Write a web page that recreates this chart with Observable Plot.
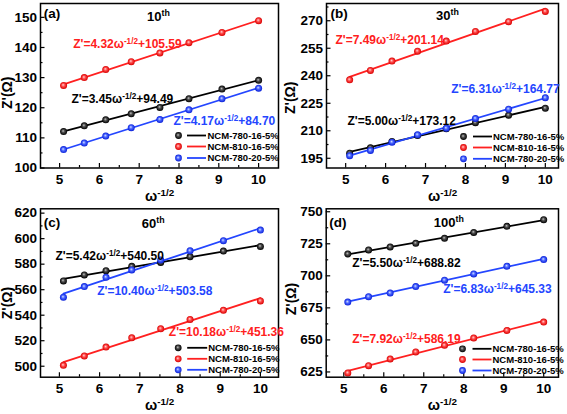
<!DOCTYPE html>
<html>
<head>
<meta charset="utf-8">
<script src="https://cdn.jsdelivr.net/npm/d3@7"></script>
<script src="https://cdn.jsdelivr.net/npm/@observablehq/plot@0.6"></script>
<style>
html, body { margin: 0; padding: 0; background: #fff; }
#fig { position: relative; width: 567px; height: 414px; overflow: hidden; font-family: "Liberation Sans", Arial, sans-serif; }
#fig > div { position: absolute; }
#fig svg { overflow: visible; }
</style>
</head>
<body>
<svg width="0" height="0" style="position:absolute">
  <defs>
    <radialGradient id="ball0" cx="0.5" cy="0.5" r="0.5" fx="0.42" fy="0.4">
      <stop offset="0" stop-color="#c8c8c8"/><stop offset="0.4" stop-color="#505050"/><stop offset="1" stop-color="#000"/>
    </radialGradient>
    <radialGradient id="ball1" cx="0.5" cy="0.5" r="0.5" fx="0.42" fy="0.4">
      <stop offset="0" stop-color="#ffd6d6"/><stop offset="0.45" stop-color="#ff4a4a"/><stop offset="1" stop-color="#d80000"/>
    </radialGradient>
    <radialGradient id="ball2" cx="0.5" cy="0.5" r="0.5" fx="0.42" fy="0.4">
      <stop offset="0" stop-color="#d6e0ff"/><stop offset="0.45" stop-color="#4a66ff"/><stop offset="1" stop-color="#0a20d8"/>
    </radialGradient>
  </defs>
</svg>
<div id="fig"></div>
<script>
// ---------- data ----------
const omega = [5.10, 5.62, 6.16, 6.80, 7.52, 8.25, 9.08, 10.0]; // ω^-1/2
const seriesNames = ["NCM-780-16-5%", "NCM-810-16-5%", "NCM-780-20-5%"];
const panelLetters = ["(a)", "(b)", "(c)", "(d)"];
const cycleLabels = ["10", "30", "60", "100"];

const z10_780_16 = [112.1, 114.0, 116.0, 118.0, 120.1, 123.0, 126.2, 129.1];
const z10_810_16 = [127.4, 130.0, 132.7, 135.3, 138.2, 141.6, 145.0, 148.9];
const z10_780_20 = [106.1, 108.3, 110.6, 113.4, 116.1, 119.3, 123.0, 126.5];

const z30_780_16 = [197.8, 200.7, 204.2, 207.4, 211.1, 214.4, 218.5, 222.3];
const z30_810_16 = [237.8, 242.9, 248.0, 253.4, 258.9, 264.2, 269.5, 275.1];
const z30_780_20 = [196.4, 199.3, 203.8, 207.8, 211.4, 216.7, 221.8, 228.0];

const z60_780_16 = [566.9, 571.6, 574.9, 578.3, 581.4, 585.9, 590.3, 593.9];
const z60_810_16 = [500.7, 508.0, 515.0, 522.3, 529.4, 536.7, 543.9, 551.2];
const z60_780_20 = [554.1, 562.4, 569.7, 575.5, 583.3, 590.5, 598.4, 606.7];

const z100_780_16 = [717.1, 720.2, 722.5, 725.4, 729.3, 733.9, 738.6, 743.8];
const z100_810_16 = [624.2, 629.9, 635.1, 640.6, 645.8, 651.5, 657.4, 663.9];
const z100_780_20 = [679.5, 683.7, 686.6, 691.6, 696.6, 701.5, 707.5, 712.7];

// fitted equations (black, red, blue)
const eq10 = ["Z'=3.45ω^-1/2^+94.49", "Z'=4.32ω^-1/2^+105.59", "Z'=4.17ω^-1/2^+84.70"];
const eq30 = ["Z'=5.00ω^-1/2^+173.12", "Z'=7.49ω^-1/2^+201.14", "Z'=6.31ω^-1/2^+164.77"];
const eq60 = ["Z'=5.42ω^-1/2^+540.50", "Z'=10.18ω^-1/2^+451.36", "Z'=10.40ω^-1/2^+503.58"];
const eq100 = ["Z'=5.50ω^-1/2^+688.82", "Z'=7.92ω^-1/2^+586.19", "Z'=6.83ω^-1/2^+645.33"];

const xTicks = [5, 6, 7, 8, 9, 10];
const xMinor = [5.5, 6.5, 7.5, 8.5, 9.5];
const yTicks10 = [100, 110, 120, 130, 140, 150];
const yMinor10 = [105, 115, 125, 135, 145];
const yTicks30 = [195, 210, 225, 240, 255, 270];
const yMinor30 = [202.5, 217.5, 232.5, 247.5, 262.5, 277.5];
const yTicks60 = [500, 520, 540, 560, 580, 600, 620];
const yMinor60 = [510, 530, 550, 570, 590, 610];
const yTicks100 = [625, 650, 675, 700, 725, 750];
const yMinor100 = [637.5, 662.5, 687.5, 712.5, 737.5];

const xLabel = "ω^-1/2";
const yLabel = "Z'(Ω)";

// ---------- styling / layout ----------
const colors = ["#000000", "#ff2020", "#2446ff"];
const FONT = "'Liberation Sans', Arial, Helvetica, sans-serif";

const panels = [
  {z: [z10_780_16, z10_810_16, z10_780_20], eq: eq10, yTicks: yTicks10, yMinor: yMinor10,
   left: 0, top: 0, width: 283, height: 207, ml: 40, mr: 5, mt: 3, mb: 39.5,
   xd: [4.52, 10.5], yd: [100, 154.6],
   letter: [3.3, 9.7], cycle: [118, 13],
   eqPos: [[31, 95.3], [32.7, 40.3], [133, 117.7]],
   leg: {dy: [132, 143, 154.5], mark: 138, line: 156, half: 9.5, text: 167},
   yl: [-33, 7]},
  {z: [z30_780_16, z30_810_16, z30_780_20], eq: eq30, yTicks: yTicks30, yMinor: yMinor30,
   left: 283, top: 0, width: 284, height: 207, ml: 43, mr: 9, mt: 3, mb: 39.5,
   xd: [4.52, 10.33], yd: [189.7, 279.4],
   letter: [4, 9.7], cycle: [121, 12],
   eqPos: [[21, 118], [9, 36.3], [124.7, 85.5]],
   leg: {dy: [133, 144, 155.3], mark: 137, line: 156, half: 9.5, text: 166.5},
   yl: [-36, 12]},
  {z: [z60_780_16, z60_810_16, z60_780_20], eq: eq60, yTicks: yTicks60, yMinor: yMinor60,
   left: 0, top: 205, width: 283, height: 209, ml: 40, mr: 5, mt: 3.3, mb: 37.3,
   xd: [4.53, 10.45], yd: [491.4, 623.4],
   letter: [3.3, 13.4], cycle: [112.7, 15],
   eqPos: [[15, 47.4], [128.3, 123.4], [56.7, 82.7]],
   leg: {dy: [139, 150, 161], mark: 137.7, line: 156.7, half: 10, text: 167.7},
   yl: [-33, 10]},
  {z: [z100_780_16, z100_810_16, z100_780_20], eq: eq100, yTicks: yTicks100, yMinor: yMinor100,
   left: 283, top: 205, width: 284, height: 209, ml: 42.7, mr: 9, mt: 3.3, mb: 37.3,
   xd: [4.56, 10.37], yd: [620.9, 752.3],
   letter: [3, 13.4], cycle: [122.6, 14],
   eqPos: [[26, 54], [26, 130], [117, 80]],
   leg: {dy: [140, 150.7, 161.7], mark: 136.3, line: 155.8, half: 9.5, text: 166.3},
   yl: [-35, 6]}
];

function lineSymbol(half) {
  return {draw(ctx) { ctx.moveTo(-half, 0); ctx.lineTo(half, 0); }};
}

function supify(svg) {
  d3.select(svg).selectAll("text").each(function () {
    const t = this.textContent;
    if (!t || !t.includes("^")) return;
    const parts = t.split("^");
    const sel = d3.select(this);
    sel.text(null);
    parts.forEach((s, i) => {
      if (!s) return;
      const ts = sel.append("tspan").text(s);
      if (i % 2 === 1) ts.attr("baseline-shift", "super").attr("font-size", "68%");
    });
  });
}

const fig = document.getElementById("fig");

panels.forEach((p, pi) => {
  const fw = p.width - p.ml - p.mr;
  const fh = p.height - p.mt - p.mb;
  const series = p.z.map(arr => omega.map((x, i) => ({x, z: arr[i]})));
  const bold = {fontWeight: "bold"};
  const marks = [
    Plot.tickX(xTicks, {x: d => d, insetTop: fh - 4.5, strokeWidth: 1.2}),
    Plot.tickX(xMinor, {x: d => d, insetTop: fh - 2.5, strokeWidth: 1.2}),
    Plot.tickY(p.yTicks, {y: d => d, insetRight: fw - 4.5, strokeWidth: 1.2}),
    Plot.tickY(p.yMinor, {y: d => d, insetRight: fw - 2.5, strokeWidth: 1.2}),
    Plot.axisX(xTicks, {tickSize: 0, tickPadding: 6, fontSize: 13.5, ...bold, label: null}),
    Plot.axisY(p.yTicks, {tickSize: 0, tickPadding: 3.5, fontSize: 13.5, ...bold, label: null}),
    ...series.map((d, k) => Plot.linearRegressionY(d, {x: "x", y: "z", stroke: colors[k], strokeWidth: 1.8, ci: 0})),
    ...series.map((d, k) => Plot.dot(d, {x: "x", y: "z", r: 3.5, fill: `url(#ball${k})`})),
    Plot.frame({stroke: "#000", strokeWidth: 1.5}),
    Plot.text([panelLetters[pi]], {text: d => d, frameAnchor: "top-left", dx: p.letter[0], dy: p.letter[1],
      textAnchor: "start", lineAnchor: "middle", fontSize: 13.5, ...bold}),
    Plot.text([cycleLabels[pi] + "^th"], {text: d => d, frameAnchor: "top-left", dx: p.cycle[0], dy: p.cycle[1],
      textAnchor: "middle", lineAnchor: "middle", fontSize: 13, ...bold}),
    ...p.eq.map((e, k) => Plot.text([e], {text: d => d, frameAnchor: "top-left", dx: p.eqPos[k][0], dy: p.eqPos[k][1],
      textAnchor: "start", lineAnchor: "middle", fontSize: 12, fill: colors[k], ...bold})),
    ...seriesNames.map((n, k) => Plot.dot([n], {frameAnchor: "top-left", dx: p.leg.mark, dy: p.leg.dy[k], r: 3.4, fill: `url(#ball${k})`})),
    ...seriesNames.map((n, k) => Plot.dot([n], {frameAnchor: "top-left", dx: p.leg.line, dy: p.leg.dy[k], r: 5,
      symbol: lineSymbol(p.leg.half), fill: "none", stroke: colors[k], strokeWidth: 1.8})),
    ...seriesNames.map((n, k) => Plot.text([n], {text: d => d, frameAnchor: "top-left", dx: p.leg.text, dy: p.leg.dy[k],
      textAnchor: "start", lineAnchor: "middle", fontSize: 9.5, ...bold})),
    Plot.text([yLabel], {text: d => d, frameAnchor: "left", dx: p.yl[0], dy: p.yl[1], rotate: -90,
      textAnchor: "middle", lineAnchor: "middle", fontSize: 14, ...bold}),
    Plot.text([xLabel], {text: d => d, frameAnchor: "bottom", dy: 28,
      textAnchor: "middle", lineAnchor: "middle", fontSize: 14.5, ...bold})
  ];
  const svg = Plot.plot({
    width: p.width, height: p.height,
    marginLeft: p.ml, marginRight: p.mr, marginTop: p.mt, marginBottom: p.mb,
    x: {type: "linear", domain: p.xd},
    y: {type: "linear", domain: p.yd},
    style: {fontFamily: FONT, color: "#000", background: "transparent", overflow: "visible"},
    marks
  });
  supify(svg);
  const holder = document.createElement("div");
  holder.style.left = p.left + "px";
  holder.style.top = p.top + "px";
  holder.appendChild(svg);
  fig.appendChild(holder);
});
</script>
</body>
</html>
